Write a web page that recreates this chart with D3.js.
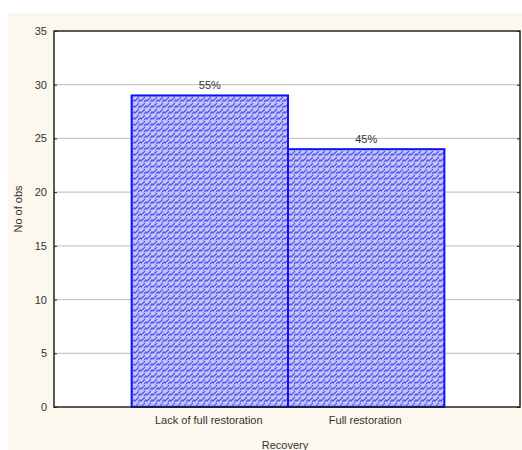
<!DOCTYPE html>
<html>
<head>
<meta charset="utf-8">
<script src="https://cdn.jsdelivr.net/npm/d3@7"></script>
<style>
  body { margin: 0; background: #ffffff; }
  svg { display: block; }
</style>
</head>
<body>
<div id="chart"></div>
<script>
(function() {
    const W = 522, H = 450;
    const margin = {top: 31, right: 2, bottom: 43, left: 54};
    const width = W - margin.left - margin.right,
          height = H - margin.top - margin.bottom;

    // Données
    const categories = ["Lack of full restoration", "Full restoration"];
    const counts = [29, 24];
    const percentLabels = ["55%", "45%"];
    const yTicks = [0, 5, 10, 15, 20, 25, 30, 35];

    const svg = d3.select("#chart").append("svg")
        .attr("width", W).attr("height", H);

    // fond crème
    svg.append("rect")
        .attr("x", 8).attr("y", 13)
        .attr("width", W - 8).attr("height", H - 13)
        .attr("fill", "#fcf8ee");

    // motif zigzag
    const defs = svg.append("defs");
    const pat = defs.append("pattern")
        .attr("id", "zig")
        .attr("patternUnits", "userSpaceOnUse")
        .attr("width", 6).attr("height", 6);
    pat.append("rect").attr("width", 6).attr("height", 6).attr("fill", "#c6c6f8");
    pat.append("path")
        .attr("d", "M0,5 L2,3 L3,4 L6,1 M-1,2 L1,0 M5,7 L7,5")
        .attr("stroke", "#5858ee")
        .attr("stroke-width", 1.3)
        .attr("fill", "none");

    const g = svg.append("g")
        .attr("transform", `translate(${margin.left},${margin.top})`);

    g.append("rect")
        .attr("width", width).attr("height", height)
        .attr("fill", "#ffffff");

    // Échelles
    const x = d3.scaleBand()
        .domain(categories)
        .range([0, width])
        .paddingInner(0)
        .paddingOuter(0.49);
    const y = d3.scaleLinear().domain([0, 35]).range([height, 0]);

    // grille
    g.append("g")
        .selectAll("line")
        .data(yTicks.filter(d => d > 0 && d < 35))
        .join("line")
        .attr("x1", 0).attr("x2", width)
        .attr("y1", d => y(d)).attr("y2", d => y(d))
        .attr("stroke", "#c8c8c8")
        .attr("stroke-width", 1.2);

    // barres
    const data = categories.map((c, i) => ({cat: c, n: counts[i], pct: percentLabels[i]}));
    g.selectAll(".bar")
        .data(data)
        .join("rect")
        .attr("class", "bar")
        .attr("x", d => x(d.cat) + 1)
        .attr("y", d => y(d.n))
        .attr("width", x.bandwidth())
        .attr("height", d => y(0) - y(d.n))
        .attr("fill", "url(#zig)")
        .attr("stroke", "#1010ff")
        .attr("stroke-width", 2);

    g.selectAll(".pct")
        .data(data)
        .join("text")
        .attr("class", "pct")
        .attr("x", d => x(d.cat) + 1 + x.bandwidth() / 2)
        .attr("y", d => y(d.n) - 6)
        .attr("text-anchor", "middle")
        .style("font-family", "Liberation Sans, Arial, sans-serif")
        .style("font-size", "11px")
        .style("fill", "#333")
        .text(d => d.pct);

    // cadre
    g.append("rect")
        .attr("width", width).attr("height", height)
        .attr("fill", "none")
        .attr("stroke", "#222")
        .attr("stroke-width", 1.5);

    // Axe Y
    const yAxis = g.append("g")
        .call(d3.axisRight(y).tickValues(yTicks).tickSize(3).tickFormat(d3.format("d")));
    yAxis.select(".domain").remove();
    yAxis.selectAll("line").attr("stroke", "#222");
    yAxis.selectAll("text")
        .attr("x", -7)
        .attr("text-anchor", "end")
        .style("font-family", "Liberation Sans, Arial, sans-serif")
        .style("font-size", "11px")
        .style("fill", "#333");

    const yAxisR = g.append("g")
        .attr("transform", `translate(${width},0)`)
        .call(d3.axisLeft(y).tickValues(yTicks).tickSize(3).tickFormat(""));
    yAxisR.select(".domain").remove();
    yAxisR.selectAll("line").attr("stroke", "#222");

    // Axe X
    const xAxis = g.append("g")
        .attr("transform", `translate(0,${height})`)
        .call(d3.axisBottom(x).tickSize(0).tickPadding(9));
    xAxis.select(".domain").remove();
    xAxis.selectAll("text")
        .style("font-family", "Liberation Sans, Arial, sans-serif")
        .style("font-size", "11px")
        .style("fill", "#333");

    // titres des axes
    g.append("text")
        .attr("x", width / 2 - 2)
        .attr("y", height + 42)
        .attr("text-anchor", "middle")
        .style("font-family", "Liberation Sans, Arial, sans-serif")
        .style("font-size", "11px")
        .style("fill", "#333")
        .text("Recovery");

    g.append("text")
        .attr("transform", `translate(${22 - margin.left},${height / 2 - 10}) rotate(-90)`)
        .attr("text-anchor", "middle")
        .style("font-family", "Liberation Sans, Arial, sans-serif")
        .style("font-size", "11px")
        .style("fill", "#333")
        .text("No of obs");
})();
</script>
</body>
</html>
